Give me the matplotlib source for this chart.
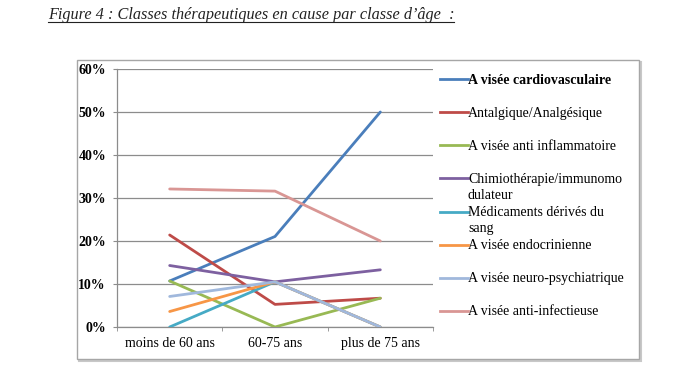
import matplotlib
matplotlib.use("Agg")
import matplotlib.pyplot as plt
from matplotlib.lines import Line2D
from matplotlib.patches import Rectangle
from matplotlib.ticker import FixedLocator, FuncFormatter

plt.rcParams['font.family'] = ['Liberation Serif', 'DejaVu Serif']

categories = ["moins de 60 ans", "60-75 ans", "plus de 75 ans"]
series_names = [
    "A visée cardiovasculaire",
    "Antalgique/Analgésique",
    "A visée anti inflammatoire",
    "Chimiothérapie/immunomo\ndulateur",
    "Médicaments dérivés du\nsang",
    "A visée endocrinienne",
    "A visée neuro-psychiatrique",
    "A visée anti-infectieuse",
]
cardio = [10.7, 21.05, 50.0]
antalgique = [21.4, 5.26, 6.7]
anti_inflam = [10.7, 0.0, 6.7]
chimio = [14.3, 10.5, 13.3]
sang = [0.0, 10.5, 0.0]
endocrine = [3.6, 10.5, 0.0]
neuro = [7.1, 10.5, 0.0]
anti_infect = [32.1, 31.6, 20.0]
values = [cardio, antalgique, anti_inflam, chimio, sang, endocrine, neuro, anti_infect]
colors = ["#4A7EBB", "#BE4B48", "#98B954", "#7D60A0", "#46AAC5", "#F79646", "#A0B8DC", "#D99694"]
yticks = [0, 10, 20, 30, 40, 50, 60]

W, H = 700, 389
fig = plt.figure(figsize=(7, 3.89), dpi=100)

# outer frame (behind the axes)
fig.add_artist(Rectangle((79 / W, 1 - 361 / H), 562 / W, 299 / H, transform=fig.transFigure,
                         facecolor="none", edgecolor="#C8C8C8", lw=1.5, zorder=-2))
fig.add_artist(Rectangle((77 / W, 1 - 359 / H), 562 / W, 299 / H, transform=fig.transFigure,
                         facecolor="white", edgecolor="#A6A6A6", lw=1.0, zorder=-1))

ax = fig.add_axes([117 / W, 1 - 327 / H, (433 - 117) / W, (327 - 69) / H])
ax.set_facecolor("none")
x = list(range(len(categories)))
for vals, c in zip(values, colors):
    ax.plot(x, vals, color=c, lw=2.0, solid_capstyle="round", zorder=3)

ax.set_xlim(-0.5, 2.5)
ax.set_ylim(0, 60)
ax.yaxis.set_major_locator(FixedLocator(yticks))
ax.yaxis.set_major_formatter(FuncFormatter(lambda v, p: f"{int(v)}%"))
ax.grid(axis="y", color="#8C8C8C", lw=0.9)
ax.set_axisbelow(True)
ax.set_xticks(x)
ax.set_xticklabels(categories, fontsize=10)
ax.set_xticks([-0.5, 0.5, 1.5, 2.5], minor=True)
ax.tick_params(axis="x", which="major", length=0, pad=7)
ax.tick_params(axis="x", which="minor", length=3, color="#8C8C8C", direction="out")
ax.tick_params(axis="y", length=3, color="#8C8C8C", direction="out", pad=5, labelsize=10)
for lab in ax.get_yticklabels():
    lab.set_fontweight("bold")
for s in ["top", "right"]:
    ax.spines[s].set_visible(False)
for s in ["left", "bottom"]:
    ax.spines[s].set_color("#8C8C8C")
    ax.spines[s].set_linewidth(0.9)

# legend (manual to match Excel layout)
y0, dy = 79, 33.14
for i, (name, c) in enumerate(zip(series_names, colors)):
    yy = 1 - (y0 + i * dy) / H
    fig.add_artist(Line2D([440 / W, 468 / W], [yy, yy], transform=fig.transFigure,
                          color=c, lw=2.0))
    fig.text(468 / W, yy + 5.5 / H, name, fontsize=10, va="top", ha="left",
             fontweight="bold" if i == 0 else "normal", linespacing=1.3)

# title with underline
t = fig.text(48 / W, 1 - 15 / H, "Figure 4 : Classes thérapeutiques en cause par classe d’âge  :",
             fontsize=11.7, style="italic", va="center", ha="left", color="#222222")
fig.canvas.draw()
bb = t.get_window_extent(renderer=fig.canvas.get_renderer())
fig.add_artist(Line2D([bb.x0 / W, bb.x1 / W], [1 - 22 / H, 1 - 22 / H],
                      transform=fig.transFigure, color="#222222", lw=0.8))

fig.savefig("out.png", dpi=100)
